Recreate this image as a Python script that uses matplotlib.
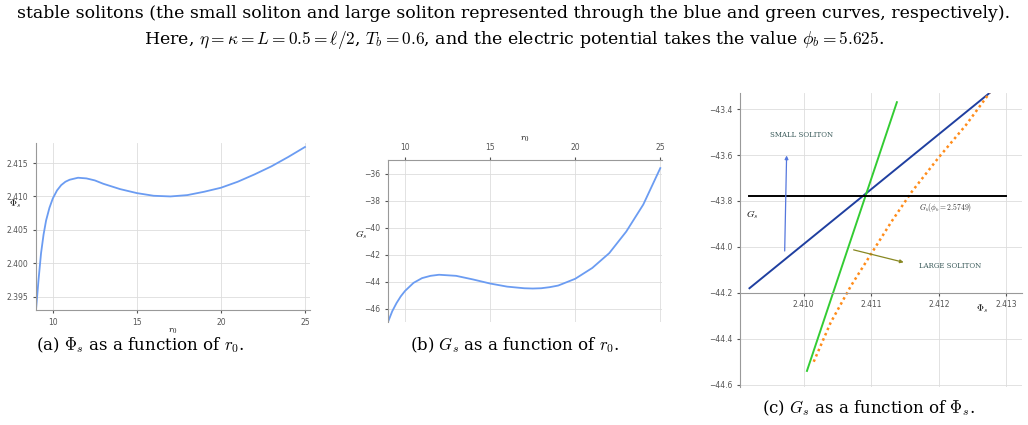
"""
three-panel soliton figure: Phi_s(r0), G_s(r0), G_s(Phi_s)
"""
import matplotlib as mpl
mpl.use('Agg')
from matplotlib import pyplot as plt

# panel (a): Phi_s vs r0
r0_a = [9.0, 9.15, 9.3, 9.45, 9.6, 9.8, 10.0, 10.25, 10.5, 10.75, 11.0, 11.5, 12.0, 12.5, 13.0, 14.0, 15.0, 16.0, 17.0, 18.0, 19.0, 20.0, 21.0, 22.0, 23.0, 24.0, 25.0]
phi_a = [2.393, 2.3975, 2.4015, 2.4043, 2.4064, 2.4083, 2.4097, 2.4109, 2.4117, 2.4122, 2.4125, 2.4128, 2.4127, 2.4124, 2.4119, 2.4111, 2.4105, 2.4101, 2.4100, 2.4102, 2.4107, 2.4113, 2.4122, 2.4133, 2.4145, 2.4159, 2.4174]

# panel (b): G_s vs r0
r0_b = [9.0, 9.25, 9.5, 9.75, 10.0, 10.5, 11.0, 11.5, 12.0, 13.0, 14.0, 15.0, 16.0, 17.0, 17.5, 18.0, 18.5, 19.0, 20.0, 21.0, 22.0, 23.0, 24.0, 25.0]
gs_b = [-47.0, -46.2, -45.6, -45.1, -44.7, -44.1, -43.75, -43.58, -43.5, -43.58, -43.85, -44.15, -44.38, -44.5, -44.52, -44.5, -44.42, -44.3, -43.8, -43.0, -41.9, -40.3, -38.3, -35.6]

# panel (c): G_s vs Phi_s
blue_x = [2.4092, 2.41275]
blue_y = [-44.18, -43.33]
green_x = [2.41005, 2.41138]
green_y = [-44.54, -43.37]
orange_x = [2.41015, 2.4104, 2.4107, 2.4110, 2.4113, 2.4116, 2.4120, 2.4124, 2.41275]
orange_y = [-44.50, -44.33, -44.17, -44.03, -43.89, -43.76, -43.61, -43.47, -43.33]
gb_level = -43.78

plt.rcParams.update({'font.size': 6, 'font.family': 'serif', 'mathtext.fontset': 'cm'})
fig = plt.figure(figsize=(10.28, 4.25), dpi=100)
W, H = 1028, 425

def add_ax(x0, y0, x1, y1):
    return fig.add_axes([x0 / W, 1 - y1 / H, (x1 - x0) / W, (y1 - y0) / H])

def sans_ticks(ax):
    for lab in ax.get_xticklabels() + ax.get_yticklabels():
        lab.set_fontfamily('DejaVu Sans')

blue = '#6b9cf2'
tick_kw = dict(labelsize=5.5, colors='#555555', length=2)

fig.text(0.5, 1 - 18 / H, 'stable solitons (the small soliton and large soliton represented through the blue and green curves, respectively).',
         ha='center', fontsize=12.5)
fig.text(0.5, 1 - 44 / H, r'Here, $\eta = \kappa = L = 0.5 = \ell/2$, $T_b = 0.6$, and the electric potential takes the value $\phi_b = 5.625$.',
         ha='center', fontsize=12.5)

# (a)
ax = add_ax(36, 143, 310, 310)
ax.plot(r0_a, phi_a, color=blue, lw=1.3)
ax.set_xlim(9.0, 25.3)
ax.set_ylim(2.393, 2.418)
ax.set_xticks([10, 15, 20, 25])
ax.set_yticks([2.395, 2.400, 2.405, 2.410, 2.415])
ax.set_yticklabels(['2.395', '2.400', '2.405', '2.410', '2.415'])
ax.grid(color='#dddddd', lw=0.6)
ax.tick_params(**tick_kw)
sans_ticks(ax)
for s in ['top', 'right']:
    ax.spines[s].set_visible(False)
ax.spines['left'].set_color('#999999')
ax.spines['bottom'].set_color('#999999')
ax.set_xlabel(r'$r_0$', fontsize=7, labelpad=0)
ax.text(-0.1, 0.62, r'$\Phi_s$', fontsize=7, transform=ax.transAxes)
fig.text(36 / W, 1 - 350 / H, r'(a) $\Phi_s$ as a function of $r_0$.', fontsize=12)

# (b)
ax = add_ax(388, 160, 662, 322)
ax.plot(r0_b, gs_b, color=blue, lw=1.3)
ax.set_xlim(9.0, 25.1)
ax.set_ylim(-47.0, -35.0)
ax.set_xticks([10, 15, 20, 25])
ax.set_yticks([-46, -44, -42, -40, -38, -36])
ax.xaxis.tick_top()
ax.xaxis.set_label_position('top')
ax.grid(color='#dddddd', lw=0.6)
ax.tick_params(**tick_kw)
sans_ticks(ax)
for s in ['bottom', 'right']:
    ax.spines[s].set_visible(False)
ax.spines['left'].set_color('#999999')
ax.spines['top'].set_color('#999999')
ax.set_xlabel(r'$r_0$', fontsize=7, labelpad=2)
ax.set_ylabel(r'$G_s$', fontsize=7, rotation=0, labelpad=2)
fig.text(410 / W, 1 - 350 / H, r'(b) $G_s$ as a function of $r_0$.', fontsize=12)

# (c)
ax = add_ax(740, 93, 1022, 387)
ax.plot(blue_x, blue_y, color='#1f3fa0', lw=1.4)
ax.plot(green_x, green_y, color='#33cc33', lw=1.4)
ax.plot(orange_x, orange_y, color='#ff8c1a', lw=1.8, ls=(0, (1, 1.3)))
ax.plot([2.4092, 2.4130], [gb_level, gb_level], color='black', lw=1.4)
ax.set_xlim(2.40906, 2.41323)
ax.set_ylim(-44.61, -43.33)
ax.set_xticks([2.410, 2.411, 2.412, 2.413])
ax.set_xticklabels(['2.410', '2.411', '2.412', '2.413'])
ax.set_yticks([-44.6, -44.4, -44.2, -44.0, -43.8, -43.6, -43.4])
ax.spines['bottom'].set_position(('data', -44.2))
for s in ['top', 'right']:
    ax.spines[s].set_visible(False)
ax.spines['left'].set_color('#999999')
ax.spines['bottom'].set_color('#999999')
ax.grid(color='#dddddd', lw=0.6)
ax.tick_params(**tick_kw)
sans_ticks(ax)
ax.text(2.41255, -44.28, r'$\Phi_s$', fontsize=7)
ax.text(2.40915, -43.87, r'$G_s$', fontsize=7)
ax.text(2.4095, -43.52, 'SMALL SOLITON', fontsize=5, color='#3a5a5a')
ax.text(2.4117, -44.09, 'LARGE SOLITON', fontsize=5, color='#3a5a5a')
ax.text(2.4117, -43.84, r'$G_b(\phi_b = 2.5749)$', fontsize=5.5, color='#333333')
ax.annotate('', xy=(2.40975, -43.59), xytext=(2.40972, -44.03),
            arrowprops=dict(arrowstyle='-|>', color='#5577dd', lw=0.9, mutation_scale=5))
ax.annotate('', xy=(2.41152, -44.07), xytext=(2.41070, -44.01),
            arrowprops=dict(arrowstyle='-|>', color='#888822', lw=0.9, mutation_scale=5))
fig.text(762 / W, 1 - 413 / H, r'(c) $G_s$ as a function of $\Phi_s$.', fontsize=12)

fig.savefig('out.png', dpi=100)
